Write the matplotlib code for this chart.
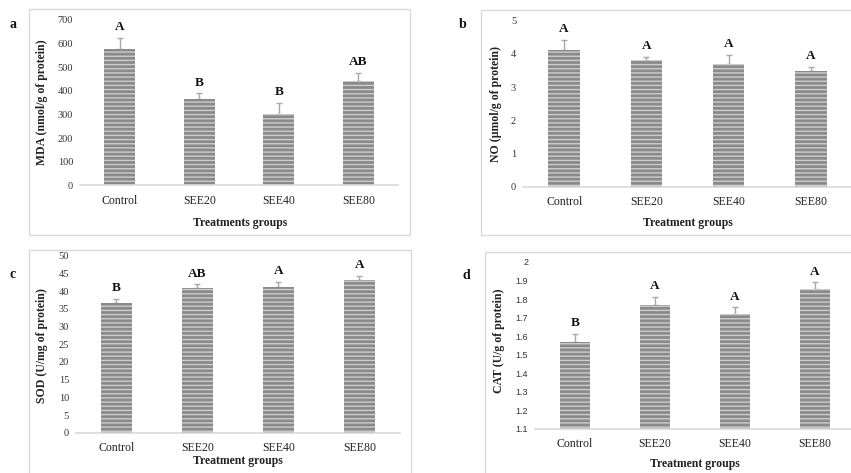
import matplotlib
matplotlib.use("Agg")
import matplotlib.pyplot as plt
from matplotlib.patches import Rectangle

plt.rcParams['font.family'] = ['Liberation Serif', 'DejaVu Serif']
plt.rcParams['hatch.linewidth'] = 1.0

groups = ['Control', 'SEE20', 'SEE40', 'SEE80']

mda = [575, 364, 300, 440]
mda_err = [50, 25, 48, 36]
mda_sig = ['A', 'B', 'B', 'AB']

no = [4.12, 3.81, 3.69, 3.49]
no_err = [0.31, 0.11, 0.28, 0.12]
no_sig = ['A', 'A', 'A', 'A']

sod = [36.6, 40.9, 41.1, 43.1]
sod_err = [1.2, 1.0, 1.5, 1.2]
sod_sig = ['B', 'AB', 'A', 'A']

cat = [1.566, 1.766, 1.721, 1.854]
cat_err = [0.047, 0.044, 0.034, 0.036]
cat_sig = ['B', 'A', 'A', 'A']

BAR = '#8a8a8a'
STRIPE = '#cdcdcd'
GRID = '#d9d9d9'

fig = plt.figure(figsize=(8.51, 4.73), dpi=100)

# panel frames (b and d run past the right edge, c and d past the bottom)
frames = [(0.0341, 0.5032, 0.4477, 0.4778),
          (0.5652, 0.5032, 0.60, 0.4757),
          (0.0341, -0.2, 0.4489, 0.6715),
          (0.5699, -0.2, 0.60, 0.6672)]
for x0, y0, w, h in frames:
    fig.patches.append(Rectangle((x0, y0), w, h, transform=fig.transFigure,
                                 fill=False, edgecolor=GRID, linewidth=1.0))

panels = [
    dict(rect=[0.094, 0.6083, 0.3737, 0.3495], vals=mda, err=mda_err, sig=mda_sig,
         ylim=(0, 700), step=100, ylabel='MDA (nmol/g of protein)', xlabel='Treatments groups',
         tag='a', tagpos=(13, 24), ylc=(-0.10, 0.5), xlc=(0.503, -0.19), tickfont='serif', fmt='{:.0f}'),
    dict(rect=[0.6146, 0.6053, 0.3866, 0.351], vals=no, err=no_err, sig=no_sig,
         ylim=(0, 5), step=1, ylabel='NO (µmol/g of protein)', xlabel='Treatment groups',
         tag='b', tagpos=(463, 25), ylc=(-0.065, 0.5), xlc=(0.5, -0.18), tickfont='serif', fmt='{:.0f}'),
    dict(rect=[0.0893, 0.0852, 0.3807, 0.3742], vals=sod, err=sod_err, sig=sod_sig,
         ylim=(0, 50), step=5, ylabel='SOD (U/mg of protein)', xlabel='Treatment groups',
         tag='c', tagpos=(13, 274), ylc=(-0.085, 0.495), xlc=(0.5, -0.126), tickfont='serif', fmt='{:.0f}'),
    dict(rect=[0.6287, 0.0937, 0.376, 0.3524], vals=cat, err=cat_err, sig=cat_sig,
         ylim=(1.1, 2.0), step=0.1, ylabel='CAT (U/g of protein)', xlabel='Treatment groups',
         tag='d', tagpos=(466, 275), ylc=(-0.094, 0.527), xlc=(0.5, -0.178), tickfont='sans', fmt='{:g}'),
]

for p in panels:
    ax = fig.add_axes(p['rect'])
    x = [i + 0.5 for i in range(len(groups))]
    lo, hi = p['ylim']
    ax.errorbar(x, p['vals'], yerr=[[0] * 4, p['err']], fmt='none', ecolor='#a8a8a8',
                elinewidth=1.0, capsize=2.5, capthick=1.0, zorder=1)
    ax.bar(x, [v - lo for v in p['vals']], bottom=lo, width=0.385, color=BAR,
           edgecolor=STRIPE, linewidth=0, hatch='----', zorder=2)
    for xi, v, e, s in zip(x, p['vals'], p['err'], p['sig']):
        ax.annotate(s, (xi, v + e), xytext=(0, 3.5), textcoords='offset points',
                    ha='center', va='bottom', fontsize=9.5, fontweight='bold', color='#111111')
    ax.set_xlim(0, 4)
    ax.set_ylim(lo, hi)
    n = int(round((hi - lo) / p['step']))
    ticks = [lo + k * p['step'] for k in range(n + 1)]
    ax.set_yticks(ticks)
    ax.set_yticklabels([p['fmt'].format(round(t, 2)) for t in ticks])
    ax.set_xticks(x)
    ax.set_xticklabels(groups, fontsize=8.5, color='#222222')
    for lab in ax.get_yticklabels():
        lab.set_fontsize(7.5 if p['tickfont'] == 'serif' else 6.5)
        lab.set_color('#333333')
        if p['tickfont'] == 'sans':
            lab.set_family('Liberation Sans')
    ax.tick_params(axis='both', length=0)
    ax.tick_params(axis='x', pad=7)
    ax.tick_params(axis='y', pad=5)
    for side in ['top', 'right', 'left']:
        ax.spines[side].set_visible(False)
    ax.spines['bottom'].set_color(GRID)
    ax.spines['bottom'].set_linewidth(1.2)
    ax.set_ylabel(p['ylabel'], fontsize=8.5, fontweight='bold', color='#222222')
    ax.yaxis.set_label_coords(*p['ylc'])
    ax.set_xlabel(p['xlabel'], fontsize=8.5, fontweight='bold', color='#222222')
    ax.xaxis.set_label_coords(*p['xlc'])
    ax.patch.set_alpha(0)
    tx, ty = p['tagpos']
    fig.text(tx / 851, 1 - ty / 473, p['tag'], fontsize=10, fontweight='bold',
             ha='center', va='center', color='#111111')

fig.savefig('out.png', dpi=100)
